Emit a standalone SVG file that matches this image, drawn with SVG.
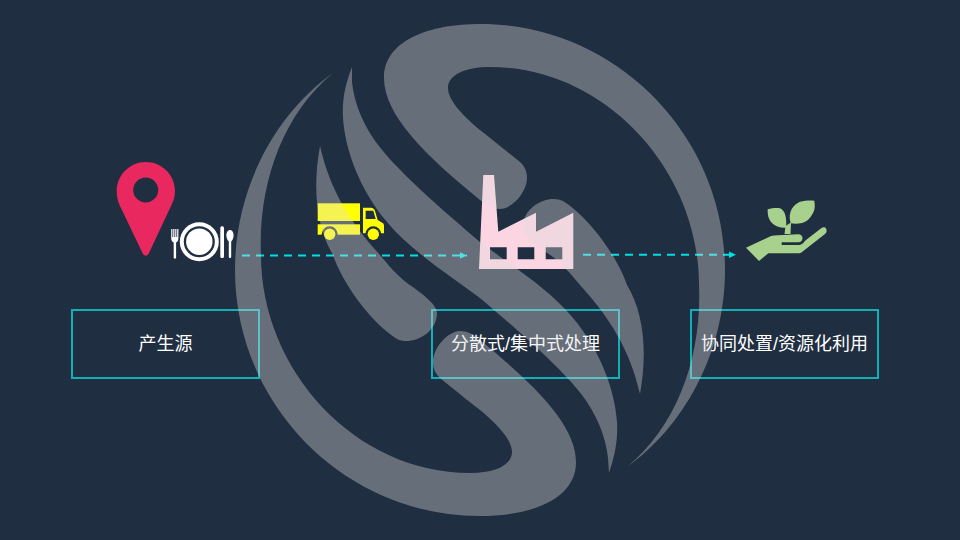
<svg xmlns="http://www.w3.org/2000/svg" xmlns:xlink="http://www.w3.org/1999/xlink" width="960" height="540" viewBox="0 0 960 540">
<style>
.box{fill:none;stroke:#0fb0b8;stroke-width:2}
.lbl{font-family:"Liberation Sans","Noto Sans CJK SC",sans-serif;font-size:18px;fill:#fff;text-anchor:middle}
.dash{fill:none;stroke:#00e0e2;stroke-width:2;stroke-dasharray:8 6}
.head{fill:#00e0e2}
.wm{fill:#e2dede;fill-opacity:.365}
</style>
<defs>
<marker id="tip" markerUnits="userSpaceOnUse" markerWidth="7" markerHeight="7" refX="7" refY="3.5" orient="auto"><path class="head" d="M0,0.3 L7,3.5 L0,6.7 Z"/></marker>
</defs>
<rect width="960" height="540" fill="#202e41"/>
<g id="node-source">
<path fill="#e9285f" fill-rule="evenodd" d="M145.7,162 C162,162 175,175 175,191 C175,197 173,202 171,206 L149,253 C147.5,256.5 144,256.5 142.5,253 L120,206 C118,202 116.7,197 116.7,191 C116.7,175 130,162 145.7,162 Z M145.7,177.5 A12.5,12.5 0 1 0 145.7,202.5 A12.5,12.5 0 1 0 145.7,177.5 Z"/>
<g fill="#fff">
<circle cx="199.3" cy="241.7" r="19.5"/><circle cx="199.3" cy="241.7" r="15.5" fill="#202e41"/><circle cx="199.3" cy="241.7" r="13.2"/>
<path d="M171.2,229 h1.2 v8 h.8 v-8 h1.2 v8 h.8 v-8 h1.2 v8 h.8 v-8 h1.2 v9 c0,3 -1.3,4 -2.3,4.5 V258 c0,.8 -2.4,.8 -2.4,0 V242.5 c-1,-.5 -2.5,-1.5 -2.5,-4.5 Z"/>
<path d="M220.3,228 c0,-2.5 3.7,-2.5 3.7,0 V256.5 c0,2 -3.7,2 -3.7,0 Z"/>
<path d="M230,230 c2.2,0 3.6,2.4 3.6,5.5 c0,3 -1.4,5 -2.4,6 V256.5 c0,2 -2.4,2 -2.4,0 V241.5 c-1,-1 -2.4,-3 -2.4,-6 c0,-3.1 1.4,-5.5 3.6,-5.5 Z"/>
</g>
<rect class="box" x="72" y="310" width="187" height="68"/>
<text class="lbl" x="165.5" y="350">产生源</text>
</g>
<g id="node-truck">
<rect x="317.7" y="203.3" width="42.3" height="17.7" fill="#ff0"/>
<rect x="317.7" y="224.3" width="42.3" height="10.4" fill="#ff0"/>
<path fill="#ff0" d="M363,207.7 H371 C373,207.7 374.5,209 375,211 L377.7,220 L383,223.3 C383.8,224 384,225 384,226 V233.3 H363 Z"/>
<path fill="#202e41" d="M365.7,210.7 H373.3 L375.7,219 H365.7 Z"/>
<circle cx="329.7" cy="234.3" r="8" fill="#202e41"/><circle cx="329.7" cy="234.3" r="5.7" fill="#ff0"/>
<circle cx="373.3" cy="234.3" r="8" fill="#202e41"/><circle cx="373.3" cy="234.3" r="5.7" fill="#ff0"/>
<rect x="360" y="226" width="3" height="9" fill="#202e41"/>
</g>
<g id="node-factory">
<path fill="#fbd5e1" fill-rule="evenodd" d="M483.3,175 H494 L498.3,231.7 L536,212.7 V231.7 L573.3,212.7 V269 H479 Z M490,247.3 V259.3 H506.7 V247.3 Z M517.7,247.3 V259.3 H534.3 V247.3 Z M545.7,247.3 V259.3 H562.3 V247.3 Z"/>
<rect class="box" x="432" y="310" width="187" height="68"/>
<text class="lbl" x="525.5" y="350">分散式/集中式处理</text>
</g>
<g id="node-reuse" fill="#a9d18e">
<path d="M767.7,209.3 C772,208 777,207.5 780,208.3 C785,210 787,218 786,227.7 C780,228 775,226 772,223 C768,219 767.5,214 767.7,209.3 Z"/>
<path d="M814.3,200.7 C815,206 815,209 813,213 C810,219 806,222 802,223 C798,224 794,224 790.7,223.3 C789,218 789.5,213 791.7,209 C794,205 797,203 800,201.7 C805,200.5 810,200.3 814.3,200.7 Z"/>
<path d="M784.5,234 L785.5,226 L791,222.5 L790.5,234 Z"/>
<path d="M746,247.7 L768,237.5 C770,236.3 772,235.7 774,235.5 L798,234.3 C801,234.3 802.5,236 802.5,238.3 C802.5,240.5 801,242.3 798.3,242.3 H781.7 V245 H799 C801,245 803,243.5 804.5,241.5 L806,240 L821.5,228 C823.5,226.7 825.5,227 826.3,229 C827,231 826.5,233 825,234 L802,252 C801,253 800,253.3 799,253.3 H768.3 L759,261 Z"/>
<rect class="box" x="691" y="310" width="187" height="68"/>
<text class="lbl" x="784.5" y="350">协同处置/资源化利用</text>
</g>
<g id="connectors">
<path class="dash" d="M242,255.5 H467" marker-end="url(#tip)"/>
<path class="dash" d="M583,254.7 H736" marker-end="url(#tip)"/>
</g>
<g id="watermark" class="wm">
<g id="wm-half">
<path d="M627,467 C682,428 725,355 725,270 C725,135 615,24 480,24 C430,24 384,40 384,78 C384,115 425,155 480,200 C487,206 493,209 500,209 C512,209 527,192 527,178 C527,170 524,166 520,162 C505,150 493,140 480,130 C462,115 448,100 448,88 C448,75 465,67 490,67 C605,67 699,170 699,285 C702,355 678,425 627,467 Z"/>
<path d="M320,146 C313,185 315,225 333,255 C342,282 370,322 397,339 C410,346 437,335 437,313 C437,304 420,292 407,283 C398,276 388,265 380,255 C350,222 330,190 320,146 Z"/>
</g>
<use xlink:href="#wm-half" href="#wm-half" transform="rotate(180 480 270)"/>
<path d="M352,67 C345,85 342,100 343,118 C345,150 360,190 387,222 C410,250 445,272 480,298 C515,328 567,372 587,402 C600,422 606,440 608,458 L609,473 C615,455 618,440 617,422 C615,390 600,350 573,318 C550,290 515,268 480,242 C445,212 393,168 373,138 C360,118 354,100 352,82 Z"/>
</g>
</svg>
